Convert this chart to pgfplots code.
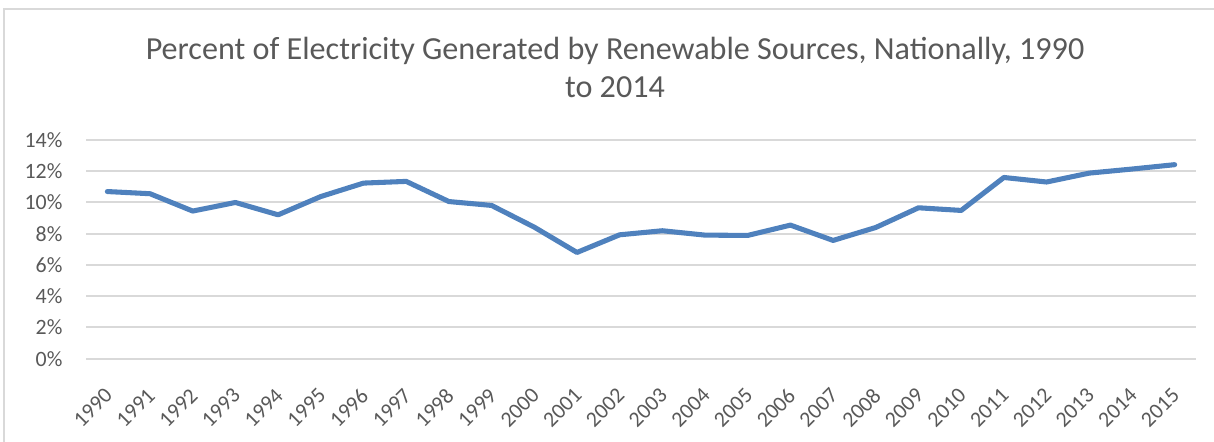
\documentclass[border=0pt]{standalone}
\usepackage{pgfplots}
\pgfplotsset{compat=1.18}
\usepackage{fontspec}
\setmainfont{Carlito}
\definecolor{txt}{HTML}{595959}
\definecolor{gridc}{HTML}{D9D9D9}
\definecolor{ln}{HTML}{4F81BD}
\begin{document}
\begin{tikzpicture}[x=0.75pt,y=0.75pt]
\useasboundingbox (0,0) rectangle (1214,442);
\draw[gridc, line width=1.2pt] (4,-5) -- (4,433) -- (1220,433);
\node[txt, anchor=base, inner sep=0pt, font=\fontsize{24.1pt}{29pt}\selectfont] at (615,382.7) {Percent of Electricity Generated by Renewable Sources, Nationally, 1990};
\node[txt, anchor=base, inner sep=0pt, font=\fontsize{24.1pt}{29pt}\selectfont] at (615,344) {to 2014};
\begin{axis}[
  at={(64.5pt,62.5pt)}, anchor=south west,
  scale only axis, width=832.5pt, height=164pt,
  xmin=-0.5, xmax=25.5, ymin=0, ymax=14,
  axis line style={draw=none},
  xmajorgrids=false, ymajorgrids=true, grid style={gridc, line width=1.5pt},
  ytick={0,2,...,14},
  yticklabel={\pgfmathprintnumber{\tick}\%},
  xtick={0,...,25},
  xticklabels={1990,1991,1992,1993,1994,1995,1996,1997,1998,1999,2000,2001,2002,2003,2004,2005,2006,2007,2008,2009,2010,2011,2012,2013,2014,2015},
  major tick length=0pt,
  /pgf/number format/assume math mode=true,
  yticklabel style={txt, font=\fontsize{16.4pt}{18pt}\selectfont, anchor=east, inner sep=0pt, xshift=-17.5pt},
  xticklabel style={txt, font=\fontsize{16.4pt}{18pt}\selectfont, xshift=1pt, yshift=-25pt, rotate=45, anchor=east, inner sep=0pt},
  clip=false,
]
\addplot[ln, line width=3.8pt, line join=round, line cap=round] coordinates {
(0,10.70) (1,10.56) (2,9.45) (3,10.00) (4,9.21) (5,10.38) (6,11.24) (7,11.35)
(8,10.06) (9,9.81) (10,8.42) (11,6.80) (12,7.93) (13,8.19) (14,7.91) (15,7.89)
(16,8.55) (17,7.57) (18,8.40) (19,9.66) (20,9.49) (21,11.60) (22,11.31) (23,11.88)
(24,12.14) (25,12.42)};
\end{axis}
\end{tikzpicture}
\end{document}
